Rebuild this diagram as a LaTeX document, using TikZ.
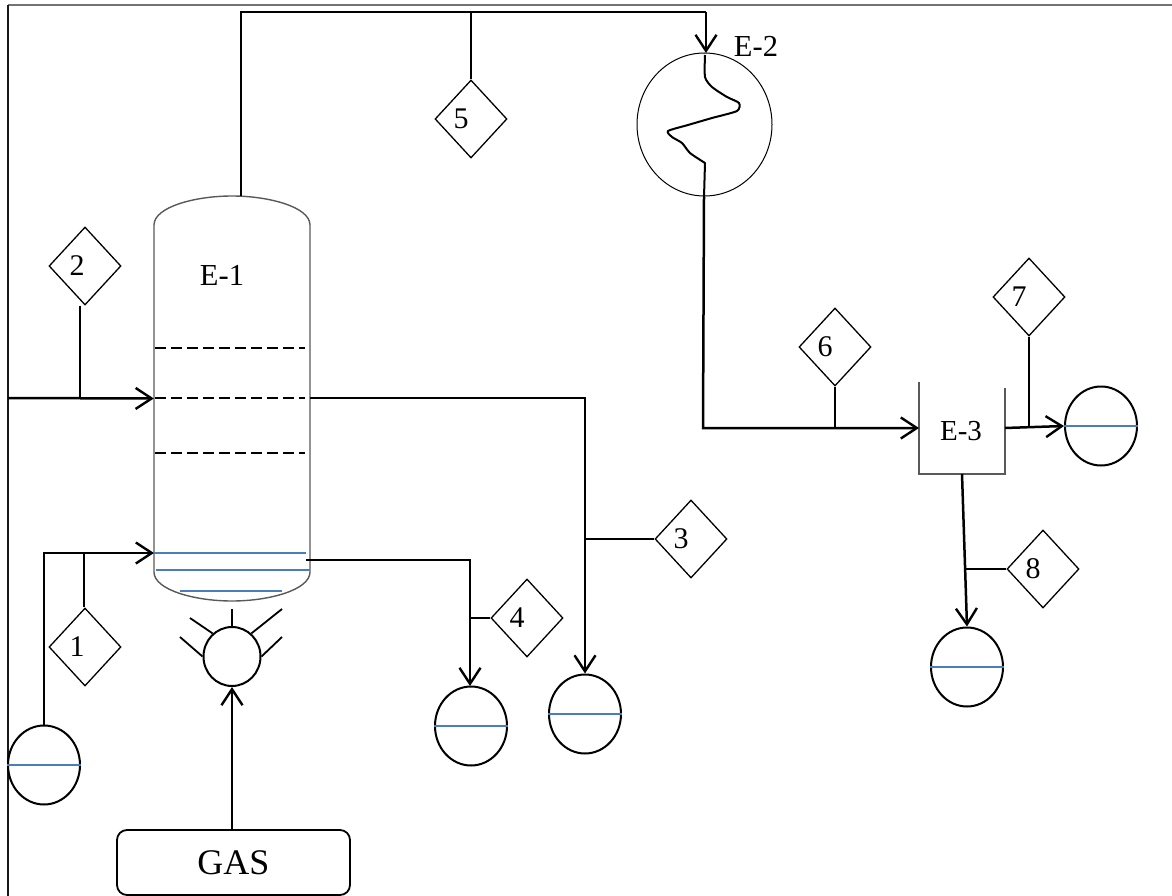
\documentclass[tikz,border=0pt]{standalone}
\usepackage{fontspec}
\setmainfont{Liberation Serif}
\usetikzlibrary{arrows.meta,shapes.geometric}

\begin{document}
\begin{tikzpicture}[
        x=1pt, y=-1pt,
        % Estilo para las corrientes (rombos y numeros)
        stream/.style={diamond, draw=black, line width=1.3pt, inner sep=0pt, minimum width=72pt, minimum height=78pt},
        digit/.style={font=\fontsize{30}{30}\selectfont},
        % Estilo para los tanques
        tank/.style={ellipse, draw=black, line width=2pt, inner sep=0pt, minimum width=72pt, minimum height=79pt},
        % Estilo para las tuberias
        pipe/.style={line width=2.5pt},
        flow/.style={pipe, -{Straight Barb[length=16pt,width=21pt,line width=2.4pt]}},
        stub/.style={line width=1.8pt},
        % Estilo para las paredes de los equipos
        wall/.style={draw=black!65, line width=1.4pt},
        level/.style={draw=levelblue, line width=1.8pt},
        tray/.style={line width=1.6pt, dash pattern=on 11pt off 5pt},
        equip/.style={font=\fontsize{30.5}{30.5}\selectfont}
    ]
        \definecolor{levelblue}{HTML}{4A7EBB}
        \useasboundingbox (0,0) rectangle (1172,896);

        % --- Marco ---
        \draw[black!55, line width=1.5pt] (8,5) -- (1172,5);
        \draw[black!90, line width=1.5pt] (8,896) -- (8,5);

        % --- Equipo E-1 ---
        \node[inner sep=0pt, minimum width=156pt, minimum height=405pt] (E1) at (232,398.5) {};
        \draw[wall] (154,572) -- (154,225) .. controls (154,207) and (195,196) .. (232,196) .. controls (269,196) and (310,207) .. (310,225) -- (310,572) .. controls (310,590) and (269,601) .. (232,601) .. controls (195,601) and (154,590) .. (154,572);
        \node[equip] (labelE1) at (222,275) {E-1};
        \draw[tray] (155,348) -- (305,348);
        \draw[tray] (155,398) -- (305,398);
        \draw[tray] (155,453) -- (305,453);
        \draw[level] (154,553) -- (306,553);
        \draw[level] (156,570) -- (310,570);
        \draw[level] (180,591) -- (282,591);

        % --- Quemador y gas ---
        \node[ellipse, draw=black, line width=2pt, inner sep=0pt, minimum width=57pt, minimum height=59pt] (burner) at (232,656.5) {};
        \draw[stub] (burner.north) -- (232,609);
        \draw[stub] (burner.130) -- (190,618);
        \draw[stub] (burner.west) -- (180,637);
        \draw[stub] (burner.50) -- (282,609);
        \draw[stub] (burner.east) -- (282,637);
        \node[draw=black, line width=1.8pt, rounded corners=10pt, minimum width=233pt, minimum height=65pt, font=\fontsize{36}{36}\selectfont] (gas) at (233.5,862.5) {GAS};
        \draw[flow] (gas.north -| burner.south) -- (burner.south);

        % --- Equipo E-2 ---
        \node[ellipse, draw=black, line width=1pt, inner sep=0pt, minimum width=135pt, minimum height=143pt] (E2) at (704.5,124.5) {};
        \node[equip] (labelE2) at (756,46) {E-2};
        \draw[line width=2pt, line join=round] plot[smooth, tension=0.4] coordinates {(705,55) (705,77) (712,87) (727,97) (739,103) (737,111) (712,118) (688,125) (668,131) (672,137) (682,143) (690,153) (705,163)} -- (704,197);

        % --- Equipo E-3 ---
        \node[inner sep=0pt, minimum width=86pt, minimum height=92pt] (E3) at (962,428) {};
        \draw[wall] (919,382) -- (919,474) -- (1005,474) -- (1005,388);
        \node[equip, font=\fontsize{29}{29}\selectfont] (labelE3) at (961,431) {E-3};

        % --- Tanques ---
        \node[tank] (T1) at (44,765) {};
        \node[tank] (T4) at (471,726) {};
        \node[tank] (T3) at (585,714) {};
        \node[tank] (T8) at (967,667) {};
        \node[tank] (T7) at (1101,426) {};
        \foreach \t in {T1,T4,T3,T8,T7} {
            \draw[level] (\t.west) -- (\t.east);
        }

        % --- Corrientes ---
        \node[stream] (S1) at (85,647) {};
        \node[stream] (S2) at (85,266) {};
        \node[stream] (S3) at (691,539) {};
        \node[stream] (S4) at (527,618) {};
        \node[stream] (S5) at (471,119) {};
        \node[stream] (S6) at (835,347) {};
        \node[stream] (S7) at (1029,297) {};
        \node[stream] (S8) at (1043,569) {};

        \node[digit] at ([xshift=-8pt]S1.center) {1};
        \node[digit] at ([xshift=-8pt]S2.center) {2};
        \node[digit] at ([xshift=-10pt]S3.center) {3};
        \node[digit] at ([xshift=-10pt]S4.center) {4};
        \node[digit] at ([xshift=-10pt]S5.center) {5};
        \node[digit] at ([xshift=-10pt]S6.center) {6};
        \node[digit] at ([xshift=-10pt]S7.center) {7};
        \node[digit] at ([xshift=-10pt]S8.center) {8};

        % --- Tuberias ---
        \coordinate (feed) at (8,398);
        \coordinate (j1) at (84,553);
        \coordinate (j2) at (80,398);
        \coordinate (j3) at (585,539);
        \coordinate (j4) at (470,618);
        \coordinate (j5) at (471,12);
        \coordinate (j6) at (835,428);
        \coordinate (j7) at (1029,426);
        \coordinate (j8) at (966,569);

        \draw[flow] (T1.north) -- (44,553) -- (154,553);
        \draw[flow] (feed) -- (E1.west);
        \draw[pipe] (241,196) -- (241,12) -- (706,12);
        \draw[flow] (706,12) -- (706,53);
        \draw[flow] (310,398) -- (585,398) -- (T3.north);
        \draw[flow] (306,560) -- (470,560) -- (470,686);
        \draw[flow] (704,197) -- (703,428) -- (919,428);
        \draw[flow] (1005,428) -- (T7.west);
        \draw[flow] (962,474) -- (T8.north);

        % --- Conexiones de los rombos ---
        \draw[stub] (S1.north -| j1) -- (j1);
        \draw[stub] (S2.south -| j2) -- (j2);
        \draw[stub] (S3.west) -- (j3);
        \draw[stub] (S4.west) -- (j4);
        \draw[stub] (S5.north) -- (j5);
        \draw[stub] (S6.south) -- (j6);
        \draw[stub] (S7.south) -- (j7);
        \draw[stub] (S8.west) -- (j8);
    \end{tikzpicture}
\end{document}
